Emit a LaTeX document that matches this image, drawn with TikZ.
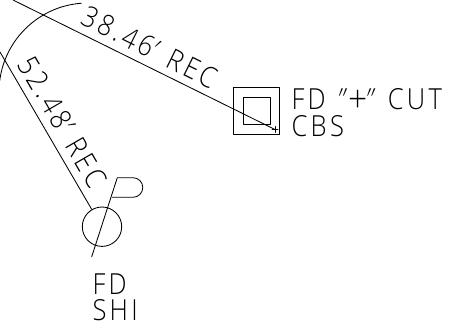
\documentclass[tikz,border=0pt]{standalone}
\usepackage{fontspec}
\setmainfont{Open Sans Light}[FakeStretch=0.88,LetterSpace=11.5,Kerning=Off]
\newfontfamily\slantfont{Open Sans Light}[FakeStretch=0.88,FakeSlant=0.4,LetterSpace=0,Kerning=Off]
\newcommand{\cadq}{{\kern-8pt\slantfont"\kern8pt}}
\newcommand{\cadp}{{\kern-7pt\slantfont'\kern9pt}}
\newcommand{\cadplus}{\raisebox{-3pt}{\fontsize{38}{38}\selectfont +}}
\tikzset{
  cad/.style={draw=black,line width=0.85pt,line cap=round,line join=round},
  cadtext/.style={inner sep=0pt,outer sep=0pt,font=\fontsize{29}{29}\selectfont,text=black}
}
\begin{document}
\begin{tikzpicture}[x=1pt,y=-1pt]
\useasboundingbox (0,0) rectangle (451,324);
\coordinate (aA) at (13,0);
\coordinate (aB) at (275,129.5);
\coordinate (bA) at (0,52);
\coordinate (bB) at (91.7,209.3);
\coordinate (stemA) at (91.7,256.7);
\coordinate (stemB) at (117.3,177.7);
\coordinate (flagA) at (133,177.7);
\coordinate (flagC) at (112.3,197.3);
\coordinate (ctr) at (102,226.7);
\begin{scope}
\clip (0,-1) rectangle (81.5,80);
\draw[cad] (88,92) circle[radius=89];
\end{scope}
\draw[cad] (aA) -- (aB);
\draw[cad] (bA) -- (bB);
\draw[cad] (233.5,87.7) rectangle (279.5,134);
\draw[cad] (243,97.5) rectangle (270.5,124.5);
\draw[cad] (272,129.5) -- (278,129.5) (275,126.5) -- (275,132.5);
\draw[cad] (ctr) circle[radius=19.7];
\draw[cad] (stemA) -- (stemB) -- (flagA) arc[start angle=90,end angle=-90,radius=9.8,y radius=-9.8] -- (flagC);
\node[cadtext,anchor=base west] (t1) at (291.5,110) {FD\hspace{14pt}\cadq\cadplus\cadq\hspace{11pt}CUT};
\node[cadtext,anchor=base west] (t2) at (291.5,136) {CBS};
\node[cadtext,anchor=base west] (t3) at (92.5,294.7) {FD};
\node[cadtext,anchor=base west] (t4) at (92.5,320.7) {SHI};
\node[cadtext,anchor=base west,rotate=-26.3] (t5) at (79,24) {38.46\cadp\hspace{11pt}REC};
\node[cadtext,anchor=base west,rotate=-59.8] (t6) at (17,64) {52.48\cadp\hspace{10pt}REC};
\end{tikzpicture}
\end{document}
